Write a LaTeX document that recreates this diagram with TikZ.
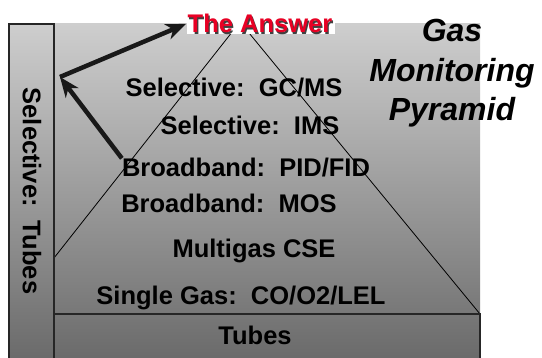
\documentclass[tikz,border=0pt]{standalone}
\usepackage{fontspec}
\setmainfont{Liberation Sans}
\usetikzlibrary{arrows.meta}
\definecolor{answerred}{RGB}{232,0,36}
\definecolor{topgray}{RGB}{206,206,206}
\definecolor{bottomgray}{RGB}{106,106,106}
\tikzstyle{level} = [font=\bfseries\fontsize{25.5}{30}\selectfont, anchor=base, inner sep=0pt]
\tikzstyle{answer} = [level, inner xsep=1.5pt]
\tikzstyle{heading} = [font=\bfseries\itshape\fontsize{32}{39.5}\selectfont, align=center, anchor=north, inner sep=0pt]
\tikzstyle{box} = [draw=black!85, line width=1.3pt]
\tikzstyle{edge} = [draw=black, line width=0.8pt]
\tikzstyle{arrow} = [line width=4.5pt, draw=black!90, -{Stealth[length=20pt, width=16pt, inset=6pt]}]

\begin{document}
\begin{tikzpicture}[x=1pt, y=-1pt]
    \useasboundingbox (0,0) rectangle (542,358);

        % Background and pyramid
        \shade[top color=topgray, bottom color=bottomgray] (9,24) rectangle (480,360);
        \coordinate (apex) at (240,22);
        \coordinate (baseL) at (54,258);
        \coordinate (baseR) at (480,314);
        \draw [edge] (baseL) -- (apex) -- (baseR);
        \draw [box] (9,24) rectangle (54,362);
        \draw [box] (54,314) -- (480,314) -- (480,362);

        % Nodes
        \node [answer, fill=white, text=black!75] at (261.2,34.2) {The Answer};
        \node (answer) [answer, text=answerred] at (260,33) {The Answer};
        \node (gcms) [level] at (234,97) {Selective:\ \ GC/MS};
        \node (ims) [level] at (250,135) {Selective:\ \ IMS};
        \node (pidfid) [level] at (246,177) {Broadband:\ \ PID/FID};
        \node (mos) [level] at (229,213) {Broadband:\ \ MOS};
        \node (cse) [level] at (254,258) {Multigas CSE};
        \node (lel) [level] at (241,305) {Single Gas:\ \ CO/O2/LEL};
        \node (tubes) [level] at (255,345) {Tubes};
        \node (side) [level, anchor=center, rotate=-90] at (32,191) {Selective:\ \ Tubes};
        \node (title) [heading] at (452,19) {Gas\\Monitoring\\Pyramid};

        % Arrows
        \coordinate (turn) at (60,77);
        \draw [arrow] (pidfid.north west) -- (turn);
        \draw [arrow] (turn) -- (answer.west);

    \end{tikzpicture}
\end{document}
